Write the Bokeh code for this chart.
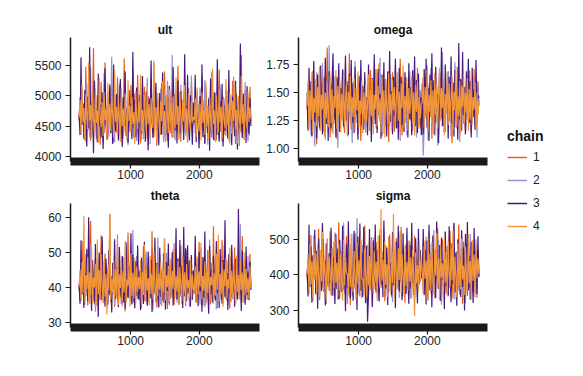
import numpy as np
from bokeh.plotting import figure
from bokeh.models import Range1d, FixedTicker, PrintfTickFormatter
from bokeh.layouts import row, column
from bokeh.embed import file_html
from bokeh.resources import INLINE

FONT = "Liberation Sans"

chains = ["1", "2", "3", "4"]
chain_colors = ["#e6601c", "#9b8fd2", "#461a7c", "#f1953a"]

iter_first, iter_last = 250, 2750
x_ticks = [1000, 2000]

# ---- ult ----
ult_1 = [4620, 4980, 4410, 5120, 4530, 4870, 4300, 5480, 4690, 4420, 5050, 4580,
         4260, 4910, 4700, 5790, 4450, 4820, 4330, 5010, 4560, 4740, 4190, 5230,
         4610, 4880, 4380, 5560, 4500, 4720, 4290, 4950, 4640, 5140, 4470, 4810,
         4230, 5020, 4680, 4390, 5310, 4570, 4860, 4340, 5090, 4620, 4450, 5620,
         4530, 4790, 4270, 4960, 4710, 4400, 5180, 4590, 4850, 4310, 5040, 4660,
         4480, 5350, 4550, 4760, 4210, 4990, 4640, 4360, 5150, 4520, 4830, 4280,
         5000, 4670, 4430, 5270, 4580, 4900, 4320, 5060, 4610, 4170, 4940, 4560,
         4780, 4350, 5210, 4630, 4460, 5410, 4540, 4800, 4250, 4970, 4690, 4380,
         5120, 4600, 4870, 4300, 5030, 4650, 4420, 5500, 4570, 4750, 4240, 4930,
         4680, 4410, 5160, 4550, 4840, 4330, 5070, 4620, 4470, 5240, 4590, 4700,
         4510, 4890, 4360, 5090, 4650, 4280, 4960, 4590, 5330, 4430, 4770, 4220,
         5010, 4620, 4390, 4850, 4540, 5190, 4310, 4730, 4480, 5060, 4600, 4260,
         4920, 4570, 5440, 4400, 4810, 4240, 4990, 4660, 4350, 5110, 4530, 4880,
         4290, 4970, 4610, 4450, 5250, 4560, 4790, 4200, 5030, 4680, 4370, 4940,
         4520, 5680, 4420, 4830, 4270, 5080, 4630, 4460, 4900, 4340, 5150, 4580]
ult_2 = [4580, 4850, 4350, 5070, 4690, 4420, 4960, 4240, 5210, 4610, 4780, 4320,
         5480, 4540, 4890, 4430, 4710, 5030, 4280, 4820, 4600, 5150, 4370, 4930,
         4650, 4210, 5380, 4520, 4790, 4460, 5060, 4330, 4880, 4620, 5650, 4410,
         4740, 4230, 4990, 4570, 4840, 4360, 5200, 4640, 4450, 4920, 4290, 5110,
         4680, 4500, 4810, 4180, 5020, 4590, 4870, 4340, 5440, 4630, 4420, 4960,
         4250, 5090, 4700, 4530, 4900, 4270, 5170, 4610, 4390, 4830, 4560, 5300,
         4440, 4760, 4200, 5010, 4660, 4370, 5560, 4510, 4860, 4300, 4950, 4620,
         4480, 5120, 4570, 4800, 4230, 5040, 4670, 4350, 5250, 4590, 4430, 4910,
         4540, 5680, 4400, 4770, 4260, 5080, 4630, 4490, 4880, 4310, 5190, 4600,
         4720, 4380, 5000, 4550, 4820, 4220, 5130, 4650, 4460, 5340, 4580, 4740,
         4660, 4380, 5020, 4550, 4870, 4230, 5140, 4600, 4440, 4930, 4300, 5270,
         4570, 4820, 4190, 4980, 4640, 4410, 5400, 4500, 4760, 4260, 5050, 4620,
         4350, 4890, 4530, 5180, 4420, 4790, 4240, 4960, 4680, 4330, 5090, 4590,
         4840, 4210, 5020, 4560, 4470, 5320, 4610, 4280, 4910, 4540, 4770, 4170,
         5110, 4650, 4390, 4860, 4510, 5230, 4430, 4740, 4250, 4970, 4600, 4700]
ult_3 = [4700, 4350, 5640, 4520, 4880, 4280, 5100, 4640, 4160, 4990, 4460, 5810,
         4580, 4330, 4920, 4050, 5250, 4610, 4770, 4230, 5370, 4490, 4860, 4310,
         5060, 4120, 4730, 5460, 4540, 4270, 4950, 4620, 5190, 4380, 4840, 4200,
         5520, 4570, 4410, 5030, 4660, 4260, 4890, 5280, 4500, 4150, 4980, 4620,
         5410, 4340, 4780, 4220, 5100, 4560, 4870, 4280, 5730, 4470, 4930, 4310,
         5140, 4600, 4190, 5020, 4690, 4390, 5330, 4530, 4810, 4240, 5070, 4650,
         4100, 4960, 4480, 5590, 4570, 4300, 4900, 4680, 5220, 4420, 4760, 4180,
         5050, 4610, 4360, 5390, 4510, 4850, 4250, 5000, 4640, 4140, 5170, 4550,
         4790, 4320, 5480, 4600, 4430, 4940, 4210, 5260, 4670, 4370, 5080, 4520,
         4830, 4270, 5690, 4580, 4400, 5350, 4490, 4260, 5010, 4620, 4190, 4890,
         4560, 5350, 4230, 4870, 4600, 4130, 5000, 4490, 5520, 4320, 4790, 4200,
         5150, 4630, 4380, 4950, 4090, 5290, 4540, 4810, 4270, 5060, 4660, 4350,
         5610, 4480, 4240, 4920, 4580, 5200, 4160, 4850, 4420, 5070, 4620, 4290,
         5430, 4510, 4770, 4180, 4990, 4650, 4330, 5250, 4560, 4110, 4900, 4460,
         5870, 4600, 4300, 5040, 4520, 4840, 4220, 5160, 4590, 4370, 4960, 4500]
ult_4 = [4640, 4930, 4380, 5190, 4560, 4800, 4250, 5030, 4690, 4430, 5560, 4590,
         4850, 4300, 4970, 4620, 4400, 5110, 4550, 4760, 4220, 5300, 4650, 4480,
         4900, 4340, 5060, 4600, 4780, 4270, 5220, 4520, 4870, 4420, 5000, 4680,
         4310, 5420, 4570, 4820, 4360, 4950, 4610, 4240, 5130, 4500, 4790, 4400,
         5040, 4660, 4290, 5260, 4580, 4840, 4370, 4980, 4540, 4730, 4200, 5080,
         4630, 4450, 4900, 4560, 5350, 4410, 4770, 4280, 5010, 4670, 4390, 5160,
         4530, 4860, 4320, 4960, 4620, 4470, 5590, 4500, 4810, 4260, 5050, 4640,
         4350, 4920, 4580, 5240, 4430, 4750, 4230, 5020, 4690, 4380, 5120, 4550,
         4880, 4300, 4990, 4610, 4460, 5310, 4520, 4830, 4270, 5070, 4660, 4400,
         4940, 4570, 5180, 4340, 4790, 4250, 5040, 4600, 4440, 4910, 4560, 4650,
         4590, 4960, 4320, 5140, 4620, 4410, 4870, 4260, 5060, 4550, 4790, 4350,
         5230, 4500, 4840, 4280, 4980, 4640, 4420, 5450, 4530, 4760, 4230, 5010,
         4670, 4390, 5100, 4560, 4820, 4300, 4940, 4610, 4460, 5280, 4510, 4880,
         4250, 5040, 4650, 4370, 4920, 4580, 5190, 4430, 4770, 4210, 5000, 4630,
         4400, 5330, 4540, 4860, 4290, 4970, 4600, 4450, 5070, 4570, 4810, 4620]

# ---- omega ----
omega_1 = [1.42, 1.18, 1.61, 1.30, 1.52, 1.12, 1.69, 1.36, 1.24, 1.55, 1.04, 1.47,
           1.33, 1.73, 1.21, 1.58, 1.39, 1.15, 1.64, 1.28, 1.49, 1.90, 1.26, 1.44,
           1.10, 1.57, 1.35, 1.67, 1.22, 1.50, 1.31, 1.09, 1.62, 1.40, 1.19, 1.54,
           1.27, 1.71, 1.37, 1.14, 1.48, 1.32, 1.60, 1.23, 1.85, 1.34, 1.17, 1.53,
           1.41, 1.25, 1.66, 1.29, 1.46, 1.13, 1.59, 1.36, 1.07, 1.51, 1.38, 1.20,
           1.63, 1.33, 1.45, 1.27, 1.56, 1.16, 1.70, 1.39, 1.22, 1.52, 1.30, 1.65,
           1.18, 1.47, 1.35, 1.76, 1.24, 1.43, 1.11, 1.58, 1.37, 1.21, 1.62, 1.32,
           1.49, 1.06, 1.55, 1.40, 1.26, 1.68, 1.34, 1.15, 1.51, 1.29, 1.60, 1.19,
           1.44, 1.80, 1.31, 1.12, 1.57, 1.38, 1.23, 1.64, 1.36, 1.17, 1.48, 1.28,
           1.54, 1.14, 1.66, 1.35, 1.21, 1.50, 1.30, 1.72, 1.25, 1.42, 1.18, 1.46,
           1.39, 1.63, 1.20, 1.53, 1.31, 1.74, 1.16, 1.45, 1.28, 1.60, 1.09, 1.49,
           1.36, 1.67, 1.23, 1.56, 1.34, 1.13, 1.61, 1.41, 1.27, 1.82, 1.22, 1.47,
           1.15, 1.58, 1.38, 1.69, 1.25, 1.51, 1.32, 1.05, 1.59, 1.43, 1.19, 1.55,
           1.30, 1.73, 1.37, 1.12, 1.50, 1.33, 1.64, 1.24, 1.45, 1.17, 1.57, 1.40,
           1.26, 1.66, 1.35, 1.14, 1.52, 1.29, 1.71, 1.21, 1.48, 1.34, 1.60, 1.38]
omega_2 = [1.35, 1.58, 1.21, 1.47, 1.12, 1.63, 1.29, 1.52, 1.02, 1.41, 1.68, 1.25,
           1.44, 1.17, 1.56, 1.33, 1.76, 1.22, 1.49, 1.08, 1.60, 1.38, 1.26, 1.92,
           1.31, 1.53, 1.15, 1.45, 1.34, 1.65, 1.20, 1.50, 1.01, 1.42, 1.59, 1.24,
           1.37, 1.70, 1.18, 1.48, 1.30, 1.55, 1.11, 1.43, 1.62, 1.27, 1.39, 1.05,
           1.51, 1.35, 1.78, 1.23, 1.46, 1.16, 1.57, 1.32, 1.64, 1.19, 1.40, 1.28,
           1.54, 1.14, 1.44, 1.36, 1.67, 1.22, 1.49, 1.09, 1.58, 1.33, 1.26, 1.71,
           1.38, 1.17, 1.52, 1.30, 1.81, 1.24, 1.45, 1.13, 1.61, 1.35, 1.24, 1.47,
           1.29, 1.56, 1.20, 1.66, 1.37, 1.15, 1.50, 1.27, 1.74, 1.32, 1.19, 1.53,
           1.41, 1.07, 1.59, 1.34, 1.23, 1.63, 1.28, 1.46, 1.12, 1.55, 1.39, 1.69,
           1.25, 1.43, 1.16, 1.57, 1.31, 1.48, 1.10, 1.62, 1.36, 1.21, 1.52, 1.40,
           1.33, 0.94, 1.19, 1.64, 1.27, 1.46, 1.08, 1.58, 1.36, 1.72, 1.23, 1.49,
           1.14, 1.61, 1.31, 1.53, 1.03, 1.44, 1.67, 1.26, 1.40, 1.86, 1.21, 1.50,
           1.16, 1.59, 1.35, 1.69, 1.24, 1.47, 1.11, 1.63, 1.38, 1.28, 1.77, 1.32,
           1.18, 1.54, 1.42, 1.06, 1.60, 1.30, 1.66, 1.22, 1.48, 1.13, 1.57, 1.37,
           1.25, 1.70, 1.34, 1.17, 1.52, 1.29, 1.62, 1.20, 1.45, 1.10, 1.56, 1.39]
omega_3 = [1.50, 1.16, 1.72, 1.28, 1.60, 1.11, 1.45, 1.78, 1.24, 1.55, 1.09, 1.66,
           1.34, 1.19, 1.74, 1.40, 1.13, 1.62, 1.30, 1.81, 1.22, 1.52, 1.07, 1.69,
           1.37, 1.18, 1.58, 1.85, 1.26, 1.47, 1.10, 1.64, 1.33, 1.76, 1.15, 1.54,
           1.29, 1.70, 1.20, 1.48, 1.83, 1.25, 1.57, 1.12, 1.67, 1.38, 1.79, 1.23,
           1.59, 1.14, 1.73, 1.31, 1.50, 1.08, 1.65, 1.35, 1.79, 1.21, 1.56, 1.17,
           1.68, 1.32, 1.46, 1.12, 1.75, 1.27, 1.53, 1.06, 1.63, 1.39, 1.84, 1.22,
           1.58, 1.14, 1.71, 1.30, 1.49, 1.09, 1.66, 1.36, 1.77, 1.19, 1.55, 1.11,
           1.69, 1.33, 1.87, 1.24, 1.51, 1.13, 1.64, 1.29, 1.80, 1.18, 1.57, 1.08,
           1.72, 1.35, 1.64, 1.21, 1.60, 1.15, 1.68, 1.31, 1.47, 1.10, 1.76, 1.26,
           1.55, 1.12, 1.70, 1.34, 1.82, 1.20, 1.61, 1.14, 1.67, 1.32, 1.46, 1.12,
           1.58, 1.13, 1.71, 1.29, 1.80, 1.19, 1.54, 1.07, 1.66, 1.36, 1.85, 1.24,
           1.61, 1.12, 1.73, 1.33, 1.49, 1.05, 1.68, 1.27, 1.90, 1.20, 1.57, 1.15,
           1.75, 1.38, 1.52, 1.09, 1.64, 1.31, 1.82, 1.22, 1.59, 1.11, 1.70, 1.35,
           1.47, 1.08, 1.94, 1.26, 1.62, 1.16, 1.86, 1.30, 1.55, 1.13, 1.69, 1.37,
           1.80, 1.23, 1.60, 1.10, 1.72, 1.28, 1.53, 1.17, 1.79, 1.33, 1.48, 1.45]
omega_4 = [1.38, 1.60, 1.17, 1.52, 1.26, 1.68, 1.14, 1.45, 1.32, 1.62, 1.20, 1.55,
           1.29, 1.73, 1.16, 1.48, 1.35, 1.64, 1.11, 1.50, 1.27, 1.59, 1.19, 1.44,
           1.66, 1.23, 1.53, 1.13, 1.47, 1.36, 1.70, 1.18, 1.56, 1.30, 1.61, 1.15,
           1.49, 1.25, 1.67, 1.21, 1.42, 1.58, 1.12, 1.51, 1.33, 1.65, 1.22, 1.46,
           1.28, 1.63, 1.16, 1.54, 1.34, 1.69, 1.19, 1.43, 1.31, 1.60, 1.14, 1.50,
           1.26, 1.57, 1.24, 1.40, 1.66, 1.18, 1.53, 1.29, 1.62, 1.13, 1.48, 1.35,
           1.71, 1.20, 1.56, 1.27, 1.45, 1.15, 1.64, 1.32, 1.52, 1.10, 1.59, 1.37,
           1.23, 1.67, 1.30, 1.49, 1.17, 1.61, 1.34, 1.55, 1.21, 1.44, 1.68, 1.25,
           1.51, 1.14, 1.58, 1.36, 1.74, 1.19, 1.47, 1.28, 1.63, 1.16, 1.54, 1.31,
           1.42, 1.65, 1.22, 1.50, 1.12, 1.57, 1.33, 1.60, 1.18, 1.46, 1.27, 1.40,
           1.41, 1.64, 1.19, 1.55, 1.28, 1.70, 1.15, 1.48, 1.33, 1.61, 1.22, 1.52,
           1.13, 1.66, 1.30, 1.57, 1.18, 1.45, 1.72, 1.25, 1.54, 1.36, 1.62, 1.12,
           1.49, 1.31, 1.68, 1.21, 1.58, 1.27, 1.44, 1.65, 1.17, 1.51, 1.34, 1.73,
           1.20, 1.47, 1.29, 1.60, 1.14, 1.56, 1.37, 1.67, 1.23, 1.50, 1.32, 1.63,
           1.16, 1.53, 1.26, 1.69, 1.21, 1.46, 1.35, 1.59, 1.18, 1.50, 1.30, 1.42]

# ---- theta ----
theta_1 = [40.5, 36.2, 45.8, 38.1, 53.2, 35.4, 43.7, 39.0, 47.5, 34.8, 42.3, 37.6,
           58.9, 36.9, 44.5, 40.2, 35.1, 48.3, 38.7, 41.9, 33.6, 46.2, 39.5, 54.8,
           37.2, 43.1, 35.9, 49.6, 40.8, 36.5, 44.9, 38.3, 61.0, 35.7, 42.7, 39.8,
           47.1, 34.4, 41.5, 37.9, 52.4, 36.3, 45.3, 40.1, 35.2, 48.8, 38.5, 43.4,
           33.1, 46.6, 39.3, 55.6, 37.0, 42.1, 36.1, 50.3, 40.6, 35.6, 44.2, 38.9,
           47.9, 36.7, 42.9, 39.4, 34.9, 46.0, 38.2, 51.7, 36.0, 43.8, 40.4, 35.3,
           48.5, 37.4, 44.1, 39.1, 56.0, 35.8, 42.5, 38.0, 46.8, 34.2, 41.1, 37.7,
           49.2, 36.4, 45.0, 40.0, 35.5, 53.8, 38.6, 43.3, 33.8, 47.3, 39.7, 36.6,
           44.7, 38.4, 50.8, 35.0, 42.0, 40.7, 46.4, 36.8, 43.6, 37.3, 52.0, 35.9,
           45.5, 39.2, 41.6, 34.6, 48.1, 38.8, 43.0, 36.3, 47.0, 40.3, 37.1, 42.4,
           38.1, 44.6, 35.5, 47.4, 39.6, 52.9, 36.2, 43.2, 40.9, 34.7, 48.0, 37.8,
           45.1, 36.5, 50.6, 39.0, 42.3, 35.1, 46.9, 38.5, 57.4, 36.9, 43.9, 40.2,
           34.0, 49.3, 37.4, 44.0, 39.9, 53.5, 35.8, 42.6, 38.3, 47.6, 36.1, 45.7,
           40.5, 33.9, 48.7, 37.2, 43.5, 39.3, 51.4, 35.3, 44.8, 38.9, 46.2, 36.7,
           42.0, 40.6, 54.6, 35.9, 45.3, 38.0, 47.1, 36.4, 43.8, 39.7, 49.5, 40.0]
theta_2 = [39.2, 44.1, 36.0, 47.8, 38.4, 42.6, 34.9, 49.5, 37.5, 45.2, 40.7, 35.3,
           51.8, 38.0, 43.9, 36.6, 46.4, 33.0, 41.2, 39.7, 48.1, 36.4, 44.7, 37.8,
           53.0, 35.5, 42.0, 40.3, 46.9, 34.2, 43.3, 38.6, 50.7, 36.8, 41.7, 39.1,
           47.3, 35.0, 44.4, 37.3, 55.1, 36.2, 42.4, 40.0, 45.7, 34.6, 48.6, 38.2,
           43.0, 35.8, 51.2, 39.6, 37.1, 46.0, 40.9, 35.4, 56.3, 38.8, 44.0, 36.5,
           49.0, 37.7, 42.8, 40.4, 45.9, 34.0, 47.6, 38.9, 43.5, 36.1, 50.1, 39.4,
           35.7, 44.8, 37.9, 48.4, 40.6, 33.5, 46.1, 38.3, 42.2, 36.9, 54.2, 39.0,
           45.3, 35.1, 41.9, 37.4, 47.0, 40.2, 36.3, 49.8, 38.1, 43.7, 34.8, 46.7,
           39.5, 42.1, 36.7, 52.6, 38.7, 44.9, 35.6, 48.0, 40.8, 37.2, 43.1, 35.2,
           46.3, 39.8, 41.4, 36.4, 50.4, 38.0, 44.2, 34.5, 47.8, 39.3, 42.7, 40.1,
           40.3, 45.5, 36.8, 48.3, 38.5, 43.1, 35.0, 51.1, 37.6, 44.6, 39.9, 34.3,
           47.2, 38.1, 42.7, 36.0, 53.6, 39.2, 44.2, 35.6, 46.5, 37.9, 41.8, 33.7,
           49.9, 38.8, 43.4, 36.3, 45.8, 40.1, 35.2, 52.0, 37.5, 44.5, 39.5, 47.7,
           34.8, 42.9, 38.4, 50.5, 36.6, 45.0, 40.7, 35.4, 48.2, 37.0, 43.6, 39.0,
           58.0, 36.1, 44.1, 38.6, 46.3, 35.8, 42.5, 39.8, 49.0, 37.3, 43.0, 40.2]
theta_3 = [41.0, 35.3, 53.4, 37.9, 46.5, 34.1, 44.0, 39.3, 51.0, 36.0, 60.0, 38.4,
           43.6, 33.2, 47.7, 40.6, 35.8, 52.3, 37.4, 45.1, 31.6, 49.9, 39.0, 36.3,
           54.5, 38.1, 44.3, 34.5, 48.2, 40.2, 35.0, 50.6, 37.7, 43.2, 32.8, 47.0,
           39.6, 53.7, 36.6, 45.8, 38.8, 34.3, 51.5, 40.4, 37.1, 48.9, 35.6, 44.6,
           33.9, 52.8, 39.2, 36.9, 46.1, 38.3, 55.4, 35.1, 49.3, 40.7, 34.0, 47.4,
           37.6, 51.9, 36.4, 44.8, 33.4, 48.5, 39.9, 35.2, 53.0, 38.0, 45.6, 34.7,
           50.2, 40.1, 36.8, 47.9, 32.9, 44.1, 38.6, 54.1, 35.9, 46.9, 39.4, 34.2,
           51.3, 37.3, 43.9, 36.2, 49.6, 40.5, 33.6, 47.2, 38.9, 52.5, 35.4, 45.2,
           37.8, 50.0, 34.8, 44.4, 39.7, 56.8, 36.5, 48.3, 35.0, 53.5, 38.2, 46.0,
           34.1, 57.2, 37.6, 51.1, 36.0, 52.0, 38.5, 47.6, 34.4, 49.2, 36.4, 44.8,
           39.5, 54.7, 36.1, 46.7, 34.6, 50.1, 38.7, 43.4, 33.0, 48.6, 37.0, 55.9,
           35.5, 45.5, 39.8, 32.4, 51.8, 37.9, 44.9, 35.7, 49.0, 40.3, 36.2, 53.2,
           38.4, 46.3, 34.1, 50.9, 39.1, 35.3, 47.8, 37.2, 59.1, 36.7, 44.0, 33.5,
           49.4, 40.0, 35.9, 52.1, 38.2, 45.7, 34.4, 48.1, 39.4, 36.5, 62.3, 37.5,
           43.3, 33.2, 50.4, 38.9, 46.2, 35.0, 51.6, 37.8, 44.5, 36.3, 47.3, 39.2]
theta_4 = [40.0, 45.0, 36.5, 47.2, 38.3, 60.3, 35.8, 43.5, 39.4, 48.7, 36.1, 44.2,
           37.7, 50.9, 35.2, 42.8, 39.9, 46.7, 34.7, 53.6, 38.0, 44.9, 36.8, 49.4,
           40.5, 35.4, 47.6, 37.3, 43.8, 32.2, 46.3, 39.1, 60.8, 36.4, 42.5, 38.6,
           48.0, 35.9, 45.4, 37.0, 51.6, 34.9, 43.7, 39.8, 47.4, 36.2, 44.6, 38.5,
           53.1, 35.6, 42.2, 40.3, 46.8, 34.5, 49.7, 37.5, 44.1, 36.9, 48.4, 35.3,
           45.9, 38.7, 43.0, 39.5, 47.7, 35.1, 44.4, 37.8, 52.2, 36.0, 45.6, 39.0,
           42.6, 34.8, 48.9, 38.1, 43.9, 36.6, 50.3, 40.2, 35.5, 46.5, 37.4, 44.0,
           39.3, 47.0, 34.6, 45.2, 38.4, 54.0, 36.3, 43.4, 40.0, 46.1, 35.7, 48.2,
           37.1, 44.7, 39.6, 51.0, 36.8, 43.1, 38.8, 47.5, 34.9, 45.8, 40.4, 36.1,
           49.1, 38.2, 44.3, 35.4, 46.6, 39.7, 42.0, 37.2, 48.6, 36.5, 43.6, 39.5,
           38.9, 46.0, 35.6, 48.8, 37.9, 44.5, 40.1, 52.7, 36.4, 43.2, 39.0, 47.3,
           34.9, 45.6, 38.3, 50.5, 36.2, 42.9, 40.6, 46.9, 35.3, 44.0, 37.6, 49.6,
           39.3, 55.0, 36.0, 43.8, 38.0, 47.1, 34.4, 45.1, 40.2, 48.5, 36.7, 42.3,
           39.6, 51.3, 35.8, 44.7, 37.3, 46.4, 40.8, 35.0, 49.0, 38.6, 43.5, 36.5,
           47.6, 39.1, 44.2, 35.5, 50.0, 37.7, 45.3, 38.4, 42.7, 36.9, 46.0, 39.8]

# ---- sigma ----
sigma_1 = [405, 352, 468, 381, 512, 336, 447, 392, 489, 345, 431, 374,
           530, 329, 458, 398, 362, 501, 387, 441, 318, 476, 410, 355,
           523, 379, 452, 341, 494, 403, 367, 462, 389, 548, 334, 437,
           396, 481, 357, 426, 372, 509, 343, 455, 400, 315, 487, 383,
           444, 361, 518, 392, 350, 471, 408, 339, 498, 376, 433, 365,
           540, 386, 421, 395, 348, 479, 369, 506, 331, 451, 412, 358,
           492, 377, 438, 342, 527, 390, 363, 466, 404, 326, 484, 371,
           449, 354, 514, 397, 337, 473, 385, 430, 346, 503, 411, 360,
           457, 380, 535, 340, 442, 393, 322, 486, 370, 460, 351, 496,
           402, 366, 424, 344, 510, 388, 435, 359, 478, 373, 415, 395,
           389, 455, 343, 497, 376, 434, 328, 519, 392, 463, 356, 485,
           401, 338, 472, 383, 531, 361, 446, 397, 324, 500, 371, 458,
           385, 347, 481, 409, 364, 525, 379, 440, 333, 491, 399, 353,
           467, 386, 542, 345, 448, 404, 319, 494, 374, 452, 390, 341,
           513, 381, 432, 366, 488, 396, 349, 476, 407, 336, 470, 398]
sigma_2 = [398, 447, 346, 493, 371, 428, 326, 511, 385, 459, 357, 482,
           404, 337, 467, 380, 535, 352, 440, 394, 321, 503, 368, 452,
           389, 343, 478, 410, 360, 520, 376, 435, 330, 488, 397, 355,
           464, 383, 547, 348, 443, 401, 318, 496, 371, 454, 387, 339,
           515, 378, 429, 362, 560, 391, 345, 470, 405, 334, 484, 373,
           449, 358, 426, 399, 342, 491, 366, 457, 312, 505, 382, 436,
           353, 472, 395, 328, 499, 375, 448, 361, 529, 386, 340, 465,
           407, 349, 486, 372, 431, 324, 508, 393, 356, 476, 384, 444,
           335, 517, 400, 364, 468, 379, 438, 347, 494, 369, 453, 388,
           332, 480, 396, 427, 351, 502, 374, 445, 363, 489, 381, 420,
           407, 350, 462, 379, 508, 341, 444, 395, 486, 348, 429, 371,
           527, 333, 456, 400, 365, 499, 384, 437, 316, 479, 412, 358,
           520, 376, 450, 339, 493, 405, 369, 460, 391, 544, 331, 439,
           394, 483, 355, 424, 370, 511, 345, 452, 398, 320, 490, 381,
           442, 363, 516, 389, 352, 468, 410, 337, 500, 374, 431, 392]
sigma_3 = [412, 339, 541, 366, 480, 322, 455, 391, 527, 347, 468, 305,
           502, 384, 437, 355, 546, 371, 420, 314, 489, 398, 368, 461,
           376, 533, 342, 450, 393, 318, 515, 360, 474, 331, 499, 402,
           352, 538, 379, 443, 298, 486, 364, 551, 389, 335, 471, 410,
           327, 524, 372, 446, 301, 508, 385, 545, 357, 463, 338, 535,
           394, 320, 482, 268, 344, 529, 368, 456, 310, 497, 381, 542,
           350, 470, 399, 325, 512, 374, 448, 337, 553, 388, 362, 477,
           315, 506, 396, 434, 343, 521, 370, 459, 306, 494, 383, 539,
           354, 466, 408, 329, 517, 376, 441, 346, 533, 391, 319, 485,
           361, 547, 378, 452, 334, 503, 395, 320, 530, 387, 470, 405,
           388, 529, 345, 470, 317, 497, 380, 541, 356, 452, 309, 511,
           373, 447, 335, 550, 392, 361, 484, 327, 505, 386, 440, 304,
           522, 369, 458, 342, 537, 397, 323, 489, 375, 547, 351, 463,
           313, 500, 383, 434, 338, 526, 366, 478, 300, 515, 390, 549,
           357, 455, 330, 493, 402, 321, 532, 378, 468, 346, 509, 395]
sigma_4 = [401, 458, 352, 488, 373, 439, 334, 501, 386, 462, 347, 479,
           395, 341, 470, 382, 521, 356, 445, 399, 328, 495, 368, 452,
           410, 345, 476, 390, 362, 507, 378, 434, 339, 487, 356, 461,
           383, 328, 498, 371, 448, 404, 404, 342, 483, 366, 516, 387,
           351, 467, 395, 331, 492, 375, 441, 360, 506, 388, 388, 343,
           474, 399, 336, 485, 370, 453, 357, 500, 391, 346, 469, 380,
           437, 327, 511, 398, 364, 585, 384, 443, 350, 495, 372, 430,
           338, 504, 393, 355, 466, 377, 572, 333, 489, 403, 361, 475,
           386, 524, 349, 458, 392, 340, 482, 369, 436, 356, 497, 381,
           450, 335, 471, 397, 284, 463, 376, 428, 353, 490, 388, 442,
           412, 350, 481, 389, 440, 332, 503, 375, 460, 355, 493, 384,
           345, 472, 398, 518, 361, 447, 329, 486, 392, 433, 352, 509,
           378, 465, 340, 496, 401, 366, 477, 385, 525, 348, 451, 394,
           337, 489, 371, 444, 359, 502, 387, 426, 344, 480, 396, 360,
           513, 376, 439, 331, 498, 383, 457, 354, 484, 391, 447, 403]

panels = [
    ("ult", [ult_1, ult_2, ult_3, ult_4], (3911, 5970), [4000, 4500, 5000, 5500], None),
    ("omega", [omega_1, omega_2, omega_3, omega_4], (0.887, 1.99), [1.00, 1.25, 1.50, 1.75], "%.2f"),
    ("theta", [theta_1, theta_2, theta_3, theta_4], (28.5, 63.9), [30, 40, 50, 60], None),
    ("sigma", [sigma_1, sigma_2, sigma_3, sigma_4], (252, 601), [300, 400, 500], None),
]

FRAME_W, FRAME_H = 189, 124


def make_panel(name, series, yr, yticks, fmt, left, right, top, bottom):
    p = figure(width=left + FRAME_W + right, height=top + FRAME_H + bottom,
               x_range=Range1d(125, 2875), y_range=Range1d(*yr),
               output_backend="svg", toolbar_location=None,
               min_border_left=left, min_border_right=right,
               min_border_top=top, min_border_bottom=bottom)
    p.outline_line_color = None
    p.grid.visible = False
    p.background_fill_color = "white"
    p.border_fill_color = "white"
    for vals, col in zip(series, chain_colors):
        xs = np.linspace(iter_first, iter_last, len(vals))
        p.line(xs, vals, line_color=col, line_width=1.2)
    p.title.text = name
    p.title.align = "center"
    p.title.text_font = FONT
    p.title.text_font_size = "12px"
    p.title.text_font_style = "bold"
    p.title.text_color = "#111111"
    p.title.standoff = 2

    xa = p.xaxis[0]
    xa.ticker = FixedTicker(ticks=x_ticks)
    xa.axis_line_width = 8
    xa.axis_line_color = "#1a1a1a"
    xa.major_tick_out = 7
    xa.major_tick_in = 0
    xa.major_tick_line_width = 1.2
    xa.major_tick_line_color = "#1a1a1a"
    xa.minor_tick_line_color = None
    xa.major_label_standoff = 1
    xa.major_label_text_font = FONT
    xa.major_label_text_font_size = "12px"
    xa.major_label_text_color = "#222222"

    ya = p.yaxis[0]
    ya.ticker = FixedTicker(ticks=yticks)
    if fmt:
        ya.formatter = PrintfTickFormatter(format=fmt)
    ya.axis_line_width = 1.5
    ya.axis_line_color = "#1a1a1a"
    ya.major_tick_out = 5
    ya.major_tick_in = 0
    ya.major_tick_line_width = 1.2
    ya.major_tick_line_color = "#1a1a1a"
    ya.minor_tick_line_color = None
    ya.major_label_standoff = 4
    ya.major_label_text_font = FONT
    ya.major_label_text_font_size = "12px"
    ya.major_label_text_color = "#222222"
    return p


p1 = make_panel(*panels[0], left=70, right=3, top=37, bottom=22)
p2 = make_panel(*panels[1], left=36, right=5, top=37, bottom=22)
p3 = make_panel(*panels[2], left=70, right=3, top=20, bottom=22)
p4 = make_panel(*panels[3], left=36, right=5, top=20, bottom=22)

# legend panel (lines lie outside its visible range; only the legend shows)
leg = figure(width=83, height=349, x_range=Range1d(0, 1), y_range=Range1d(0, 1),
             x_axis_type=None, y_axis_type=None, output_backend="svg",
             toolbar_location=None, min_border=0)
leg.outline_line_color = None
leg.grid.visible = False
for ch, col, vals in zip(chains, chain_colors, panels[0][1]):
    xs = np.linspace(iter_first, iter_last, len(vals))
    leg.line(xs, vals, line_color=col, line_width=1.5, legend_label=ch)
L = leg.legend[0]
L.location = (15, 113)
L.title = "chain"
L.title_text_font = FONT
L.title_text_font_size = "14px"
L.title_text_font_style = "bold"
L.title_text_color = "#111111"
L.title_standoff = 3
L.label_text_font = FONT
L.label_text_font_size = "12px"
L.label_text_color = "#222222"
L.glyph_width = 20
L.glyph_height = 20
L.label_height = 20
L.spacing = 3
L.label_standoff = 6
L.padding = 0
L.margin = 0
L.border_line_color = None
L.background_fill_alpha = 0

layout = row(column(row(p1, p2), row(p3, p4)), leg)

open("out.html", "w").write(file_html(layout, INLINE))
